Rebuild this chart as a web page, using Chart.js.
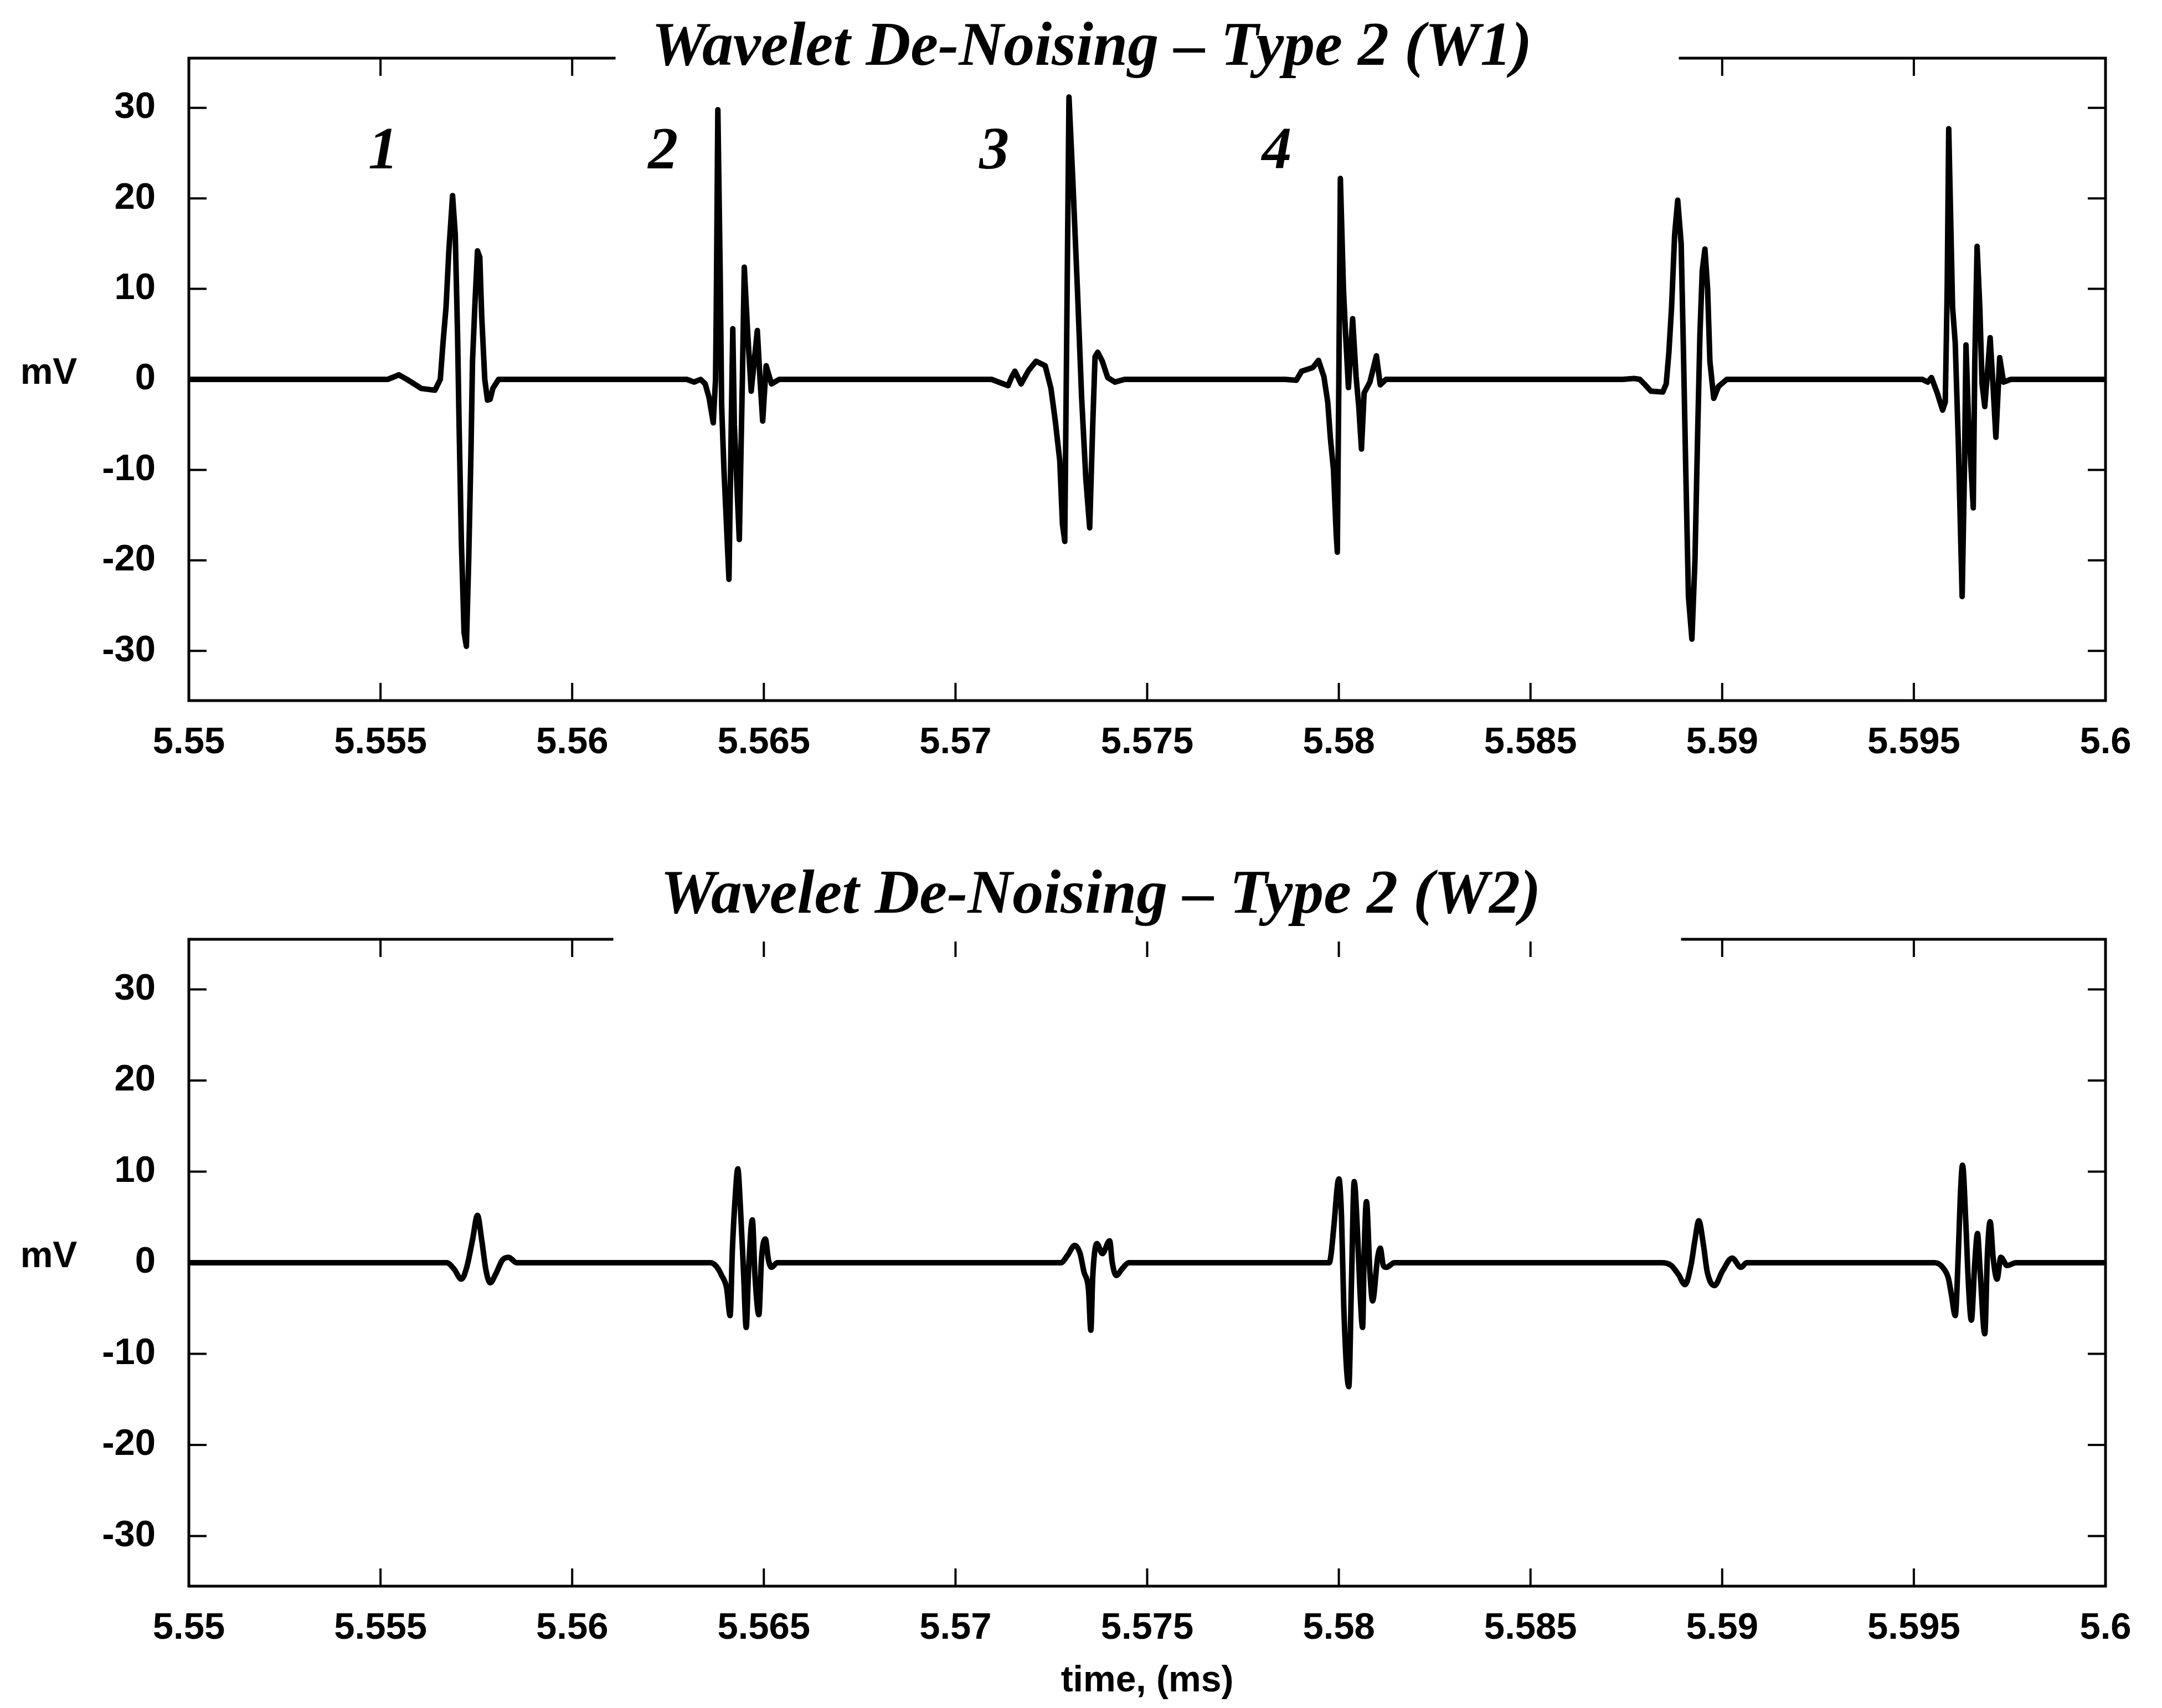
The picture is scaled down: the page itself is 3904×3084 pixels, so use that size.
<!DOCTYPE html>
<html>
<head>
<meta charset="utf-8">
<title>Wavelet De-Noising - Type 2</title>
<script src="https://cdn.jsdelivr.net/npm/chart.js@4.4.1/dist/chart.umd.min.js"></script>
<style>
  html, body { margin: 0; padding: 0; background: #fff; }
  body { width: 3904px; height: 3084px; position: relative; overflow: hidden; }
  canvas { position: absolute; left: 0; }
  #w1Chart { top: 0; }
  #w2Chart { top: 1500px; }
</style>
</head>
<body>
<canvas id="w1Chart" width="3904" height="1420"></canvas>
<canvas id="w2Chart" width="3904" height="1584"></canvas>
<script>
// time axis (ms) and amplitude axis (mV)
const xTicks = [5.55, 5.555, 5.56, 5.565, 5.57, 5.575, 5.58, 5.585, 5.59, 5.595, 5.6];
const xTickLabels = ['5.55', '5.555', '5.56', '5.565', '5.57', '5.575', '5.58', '5.585', '5.59', '5.595', '5.6'];
const yTicks = [-30, -20, -10, 0, 10, 20, 30];
const yTickLabels = ['-30', '-20', '-10', '0', '10', '20', '30'];

// W1 de-noised trace
const w1Time = [5.55,
  5.55519, 5.55548, 5.55569, 5.55606, 5.55642, 5.55656, 5.55663, 5.55671, 5.55678, 5.55688, 5.55695, 5.55701, 5.55705, 5.55711,
  5.55718, 5.55724, 5.55730, 5.55736, 5.55740, 5.55746, 5.55753, 5.55759, 5.55764, 5.55772, 5.55779, 5.55786, 5.55793, 5.55808,
  5.56299, 5.56318, 5.56335, 5.56347, 5.56357, 5.56368, 5.56374, 5.56376, 5.56380, 5.56386, 5.56390, 5.56396, 5.56409, 5.56415,
  5.56419, 5.56423, 5.56436, 5.56444, 5.56449, 5.56458, 5.56467, 5.56483, 5.56490, 5.56497, 5.56506, 5.56520, 5.56540,
  5.57094, 5.57137, 5.57147, 5.57155, 5.57171, 5.57191, 5.57210, 5.57234, 5.57249, 5.57260, 5.57272, 5.57279, 5.57285, 5.57289,
  5.57296, 5.57306, 5.57318, 5.57329, 5.57340, 5.57350, 5.57358, 5.57364, 5.57371, 5.57383, 5.57397, 5.57416, 5.57441,
  5.57860, 5.57889, 5.57903, 5.57932, 5.57947, 5.57961, 5.57971, 5.57978, 5.57986, 5.57993, 5.57996, 5.58000, 5.58004, 5.58012,
  5.58017, 5.58025, 5.58036, 5.58045, 5.58052, 5.58059, 5.58066, 5.58081, 5.58098, 5.58108, 5.58123,
  5.58741, 5.58770, 5.58785, 5.58799, 5.58814, 5.58845, 5.58854, 5.58861, 5.58868, 5.58876, 5.58884, 5.58893, 5.58899, 5.58905,
  5.58912, 5.58921, 5.58929, 5.58936, 5.58942, 5.58948, 5.58955, 5.58962, 5.58968, 5.58978, 5.58990, 5.59012,
  5.59522, 5.59536, 5.59546, 5.59561, 5.59575, 5.59582, 5.59587, 5.59591, 5.59601, 5.59608, 5.59616, 5.59626, 5.59632, 5.59636,
  5.59643, 5.59655, 5.59659, 5.59665, 5.59672, 5.59678, 5.59685, 5.59699, 5.59707, 5.59714, 5.59724, 5.59734, 5.59753,
  5.6];
const w1Mv = [0,
  0, 0.5, 0, -1.0, -1.2, 0, 4, 8, 14, 20.3, 16, 5, -5, -18,
  -28, -29.5, -20, -8, 2, 8, 14.2, 13.5, 7, 0, -2.3, -2.2, -1, 0,
  0, -0.3, 0, -0.5, -2.0, -4.8, 0, 8, 29.8, 12, -3, -10, -22.1, -5,
  5.6, -5, -17.7, 0, 12.4, 5, -1.3, 5.4, 0, -4.6, 1.5, -0.5, 0,
  0, -0.7, 0.3, 0.9, -0.5, 1.0, 2.0, 1.5, -1.0, -4.5, -9, -16, -17.9, 0,
  31.2, 22, 10, -2, -11, -16.4, -5, 2.5, 3.0, 2.0, 0.2, -0.3, 0,
  0, -0.1, 0.9, 1.3, 2.1, 0.3, -2.5, -6.5, -10, -17, -19.1, 0, 22.2, 10,
  5.5, -0.9, 6.7, 0.3, -3, -7.7, -1.5, -0.3, 2.6, -0.6, 0,
  0, 0.1, 0, -0.6, -1.3, -1.4, -0.5, 3, 8, 16, 19.8, 15, 3, -10,
  -24, -28.7, -20, -6, 5, 12, 14.4, 10, 2, -2.1, -0.8, 0,
  0, -0.3, 0.2, -1.5, -3.4, -2.5, 10, 27.7, 8, 4, -7, -24, -10, 3.8,
  -5, -14.2, 2, 14.7, 8, -0.5, -3.0, 4.6, -1, -6.4, 2.4, -0.3, 0,
  0];

// W2 de-noised trace
const w2Time = [5.55,
  5.55673, 5.55692, 5.55711, 5.55725, 5.55740, 5.55753, 5.55764, 5.55775, 5.55786, 5.55801, 5.55818, 5.55834, 5.55855,
  5.56361, 5.56376, 5.56390, 5.56403, 5.56412, 5.56418, 5.56425, 5.56432, 5.56439, 5.56447, 5.56454, 5.56460, 5.56470,
  5.56477, 5.56487, 5.56494, 5.56504, 5.56512, 5.56520, 5.56535,
  5.57275, 5.57292, 5.57311, 5.57325, 5.57335, 5.57347, 5.57353, 5.57358, 5.57369, 5.57383, 5.57402, 5.57409, 5.57419,
  5.57436, 5.57452,
  5.57975, 5.57980, 5.57987, 5.58000, 5.58007, 5.58013, 5.58026, 5.58033, 5.58040, 5.58049, 5.58055, 5.58062, 5.58066,
  5.58072, 5.58081, 5.58088, 5.58101, 5.58108, 5.58116, 5.58124, 5.58145,
  5.58842, 5.58867, 5.58886, 5.58903, 5.58919, 5.58929, 5.58939, 5.58951, 5.58961, 5.58980, 5.59001, 5.59026, 5.59049,
  5.59064,
  5.59555, 5.59575, 5.59590, 5.59598, 5.59608, 5.59616, 5.59621, 5.59627, 5.59636, 5.59642, 5.59650, 5.59659, 5.59666,
  5.59673, 5.59685, 5.59692, 5.59699, 5.59707, 5.59717, 5.59727, 5.59743, 5.59767,
  5.6];
const w2Mv = [0,
  0, -0.7, -1.8, -0.5, 2.5, 5.2, 2.5, -0.8, -2.2, -1.2, 0.3, 0.6, 0,
  0, -0.4, -1.4, -2.8, -5.8, 1.5, 7, 10.3, 6, -1, -7.1, -1, 4.7,
  -1.5, -5.7, 0.5, 2.6, 0.3, -0.5, 0,
  0, 0.8, 1.9, 1.0, -1.0, -3.0, -7.4, -1.5, 2.1, 1.0, 2.4, 0, -1.4,
  -0.6, 0,
  0, 1, 4, 9.2, 5, -5, -13.6, -2, 8.9, 3, -3, -7.1, 1,
  6.7, -1, -4.2, 0.5, 1.6, -0.3, -0.5, 0,
  0, -0.3, -1.3, -2.4, -0.2, 2.5, 4.6, 2, -1, -2.5, -0.9, 0.5, -0.5,
  0,
  0, -0.5, -1.7, -3.5, -5.8, 1, 7, 10.7, 4, -2, -6.3, 0, 3.2,
  -1, -7.8, 1, 4.5, 0.5, -1.8, 0.6, -0.3, 0,
  0];

// spike numbers written above the first four W1 events
const spikeNames = ['1', '2', '3', '4'];
const spikeNameTime = [5.55507, 5.56237, 5.57101, 5.57838];
const spikeNameMv = [25, 25, 25, 25];

const TICK_LEN = 32;
const tickFont = { family: 'Liberation Sans', size: 67, weight: 'bold' };

// box, inward ticks, title with its gap in the frame, and loose labels
const panelFrame = {
    id: 'panelFrame',
    afterDraw(chart, args, opts) {
        const { ctx, chartArea: a, scales } = chart;
        const x = scales.x, y = scales.y;
        ctx.save();
        ctx.strokeStyle = '#000';
        ctx.lineWidth = 4;
        ctx.beginPath();
        xTicks.forEach(v => {
            const px = x.getPixelForValue(v);
            ctx.moveTo(px, a.bottom); ctx.lineTo(px, a.bottom - TICK_LEN);
            ctx.moveTo(px, a.top); ctx.lineTo(px, a.top + TICK_LEN);
        });
        yTicks.forEach(v => {
            const py = y.getPixelForValue(v);
            ctx.moveTo(a.left, py); ctx.lineTo(a.left + TICK_LEN, py);
            ctx.moveTo(a.right, py); ctx.lineTo(a.right - TICK_LEN, py);
        });
        ctx.stroke();

        ctx.lineWidth = 5;
        ctx.strokeRect(a.left, a.top, a.right - a.left, a.bottom - a.top);

        // white gap in the top edge behind the title
        const mid = (a.left + a.right) / 2;
        ctx.fillStyle = '#fff';
        ctx.fillRect(mid - opts.gapHalf, a.top - 100, opts.gapHalf * 2, 100 + opts.gapBelow);

        ctx.fillStyle = '#000';
        ctx.font = 'italic bold 112px "Liberation Serif"';
        ctx.textAlign = 'center';
        ctx.textBaseline = 'alphabetic';
        ctx.fillText(opts.title, mid + opts.titleShift, a.top + opts.titleDy);

        // axis names
        ctx.font = 'bold 66px "Liberation Sans"';
        ctx.textBaseline = 'middle';
        ctx.fillText('mV', 88, y.getPixelForValue(0) - 10);
        if (opts.xLabel) {
            ctx.fillText(opts.xLabel, mid, a.bottom + 172);
        }

        if (opts.numbers) {
            ctx.font = 'italic bold 108px "Liberation Serif"';
            spikeNames.forEach((s, i) => {
                ctx.fillText(s, x.getPixelForValue(spikeNameTime[i]), y.getPixelForValue(spikeNameMv[i]));
            });
        }
        ctx.restore();
    }
};

function makePanel(id, time, mv, frame, padTop, xHeight, smooth) {
    const ctx = document.getElementById(id).getContext('2d');
    return new Chart(ctx, {
        type: 'line',
        data: {
            datasets: [{
                data: time.map((t, i) => ({ x: t, y: mv[i] })),
                borderColor: '#000',
                borderWidth: 10,
                borderJoinStyle: 'round',
                borderCapStyle: 'round',
                pointRadius: 0,
                tension: 0,
                cubicInterpolationMode: smooth ? 'monotone' : 'default',
                fill: false
            }]
        },
        options: {
            responsive: false,
            animation: false,
            events: [],
            layout: { padding: { top: padTop, right: 102, left: 0, bottom: 0 } },
            scales: {
                x: {
                    type: 'linear',
                    min: 5.55,
                    max: 5.6,
                    grid: { display: false, drawTicks: false },
                    border: { display: false },
                    afterBuildTicks: s => { s.ticks = xTicks.map(v => ({ value: v })); },
                    afterFit: s => { s.height = xHeight; },
                    ticks: {
                        autoSkip: false,
                        maxRotation: 0,
                        padding: 36,
                        color: '#000',
                        font: tickFont,
                        callback: (v, i) => xTickLabels[i]
                    }
                },
                y: {
                    type: 'linear',
                    min: -35.5,
                    max: 35.5,
                    grid: { display: false, drawTicks: false },
                    border: { display: false },
                    afterBuildTicks: s => { s.ticks = yTicks.map(v => ({ value: v })); },
                    afterFit: s => { s.width = 341; },
                    ticks: {
                        autoSkip: false,
                        padding: 60,
                        color: '#000',
                        font: tickFont,
                        callback: (v, i) => yTickLabels[i]
                    }
                }
            },
            plugins: {
                legend: { display: false },
                tooltip: { enabled: false },
                panelFrame: frame
            }
        },
        plugins: [panelFrame]
    });
}

makePanel('w1Chart', w1Time, w1Mv, {
    title: 'Wavelet De-Noising \u2013 Type 2 (W1)',
    titleShift: -100, titleDy: 12, gapHalf: 960, gapBelow: 36, numbers: true
}, 105, 155, false);

makePanel('w2Chart', w2Time, w2Mv, {
    title: 'Wavelet De-Noising \u2013 Type 2 (W2)',
    titleShift: -84, titleDy: -48, gapHalf: 964, gapBelow: 4, xLabel: 'time, (ms)'
}, 196, 220, true);
</script>
</body>
</html>
